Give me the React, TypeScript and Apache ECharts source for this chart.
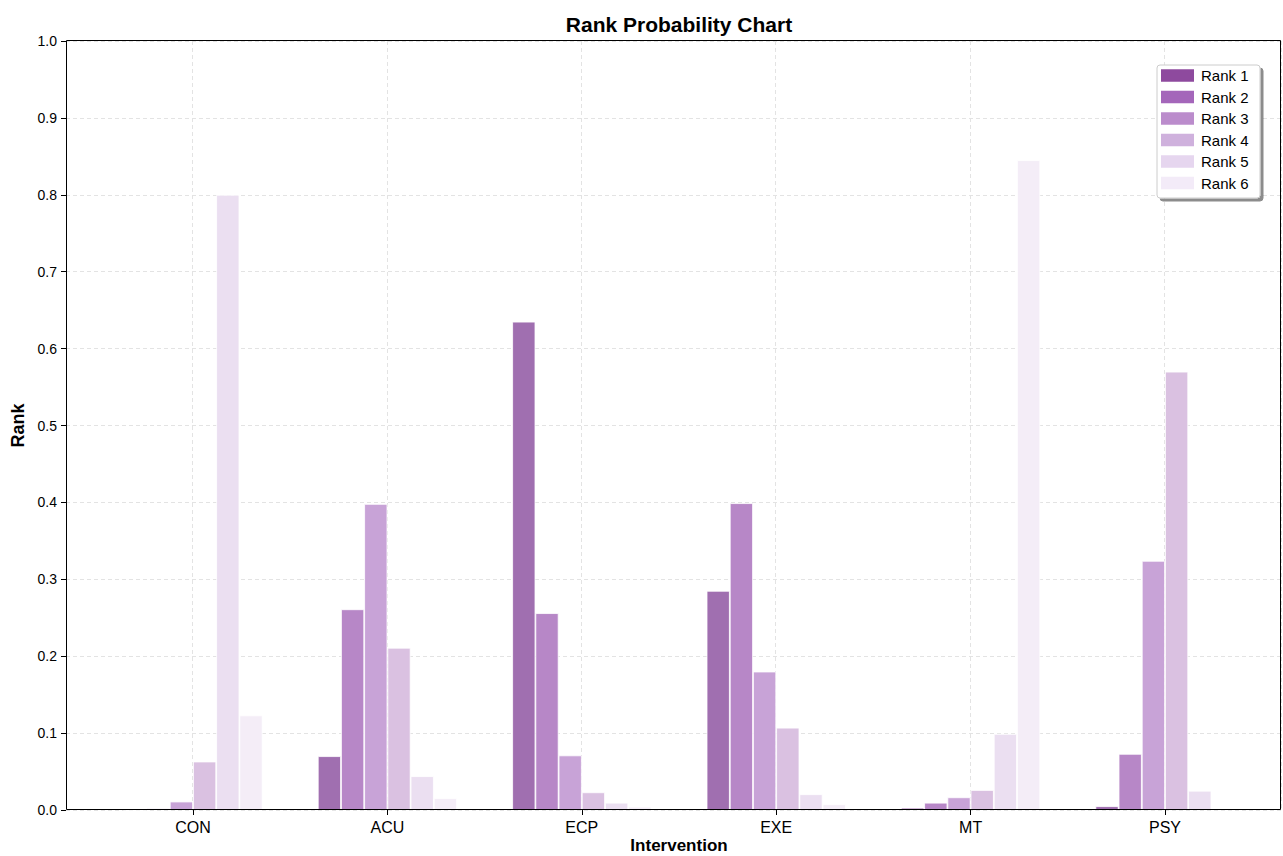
import React, { useEffect, useRef } from "react";
import * as echarts from "echarts";

const categories = ["CON", "ACU", "ECP", "EXE", "MT", "PSY"];
const rankNames = ["Rank 1", "Rank 2", "Rank 3", "Rank 4", "Rank 5", "Rank 6"];
const rank1 = [0.0, 0.07, 0.635, 0.285, 0.003, 0.005];
const rank2 = [0.002, 0.261, 0.256, 0.399, 0.0095, 0.073];
const rank3 = [0.011, 0.398, 0.071, 0.18, 0.0165, 0.324];
const rank4 = [0.063, 0.211, 0.023, 0.107, 0.026, 0.57];
const rank5 = [0.8, 0.044, 0.0095, 0.0205, 0.099, 0.025];
const rank6 = [0.123, 0.0155, 0.0043, 0.0075, 0.845, 0.001];
const yTicks = [0, 0.1, 0.2, 0.3, 0.4, 0.5, 0.6, 0.7, 0.8, 0.9, 1.0];

const barColors = ["#a06fb0", "#b787c7", "#c8a3d7", "#dac1e1", "#ebdff1", "#f4edf7"];
const legendColors = ["#8e4a9e", "#a466ba", "#bb8ccc", "#cfb1dd", "#e6d6ef", "#f3ebf8"];

const FONT = "'Liberation Sans', Arial, sans-serif";

export default function App() {
  const ref = useRef<HTMLDivElement>(null);
  useEffect(() => {
    document.body.style.margin = "0";
    const chart = echarts.init(ref.current!, undefined, { renderer: "svg" });
    const allData = [rank1, rank2, rank3, rank4, rank5, rank6];
    const gridLine = { show: true, lineStyle: { color: "#e3e3e3", type: [4, 3], width: 1 } };
    const option: any = {
      animation: false,
      backgroundColor: "#ffffff",
      textStyle: { fontFamily: FONT },
      title: {
        text: "Rank Probability Chart",
        left: 674,
        textAlign: "center",
        top: 9,
        textStyle: { fontSize: 21, fontWeight: "bold", color: "#000", fontFamily: FONT },
      },
      grid: [
        { left: 66, right: 2, top: 41, bottom: 46, outerBoundsMode: "none", containLabel: false },
        { left: 95.8, right: 20.8, top: 41, bottom: 46, outerBoundsMode: "none", containLabel: false },
      ],
      xAxis: [
        {
          type: "value", gridIndex: 0, min: -0.65, max: 5.6,
          axisLabel: { show: false }, axisTick: { show: false },
          axisLine: { show: false },
          splitLine: gridLine,
        },
        {
          type: "category", gridIndex: 1, data: categories,
          axisLine: { show: false },
          axisTick: { show: true, alignWithLabel: true, length: 5, lineStyle: { color: "#000" } },
          axisLabel: { fontSize: 16, color: "#000", margin: 9, fontFamily: FONT },
          splitLine: { show: false },
        },
      ],
      yAxis: [
        {
          type: "value", gridIndex: 0, min: 0, max: 1, interval: 0.1,
          axisLine: { show: false, onZero: false },
          axisTick: { show: true, length: 5, lineStyle: { color: "#000" } },
          axisLabel: {
            fontSize: 14, color: "#000", margin: 9, fontFamily: FONT,
            formatter: (v: number) => {
              const t = yTicks.find((x) => Math.abs(x - v) < 1e-9);
              return (t !== undefined ? t : v).toFixed(1);
            },
          },
          splitLine: gridLine,
          name: "Rank", nameLocation: "middle", nameGap: 37,
          nameTextStyle: { fontSize: 18, fontWeight: "bold", color: "#000", fontFamily: FONT },
        },
        { type: "value", gridIndex: 1, min: 0, max: 1, show: false },
      ],
      legend: {
        orient: "vertical",
        left: 1156,
        top: 63,
        itemWidth: 33,
        itemHeight: 12.5,
        itemGap: 6.5,
        icon: "rect",
        z: 10,
        textStyle: { fontSize: 15, color: "#000", fontFamily: FONT, padding: [0, 0, 0, 2] },
        data: rankNames.map((n, i) => ({ name: n, itemStyle: { color: legendColors[i], borderWidth: 0 } })),
      },
      graphic: [
        {
          type: "rect",
          shape: { x: 66.5, y: 40.5, width: 1214, height: 769 },
          style: { fill: "none", stroke: "#000", lineWidth: 1 },
          z: 50,
          silent: true,
        },
        {
          type: "rect",
          shape: { x: 1157, y: 65, width: 103, height: 133, r: 3 },
          style: {
            fill: "#ffffff", stroke: "#cccccc", lineWidth: 1,
            shadowColor: "rgba(0,0,0,0.45)", shadowOffsetX: 3, shadowOffsetY: 3, shadowBlur: 1,
          },
          z: 5,
          silent: true,
        },
        {
          type: "text",
          x: 679,
          y: 845,
          style: {
            text: "Intervention",
            fill: "#000",
            fontSize: 17,
            fontWeight: "bold",
            fontFamily: FONT,
            align: "center",
            verticalAlign: "middle",
          },
          silent: true,
        },
      ],
      series: allData.map((d, i) => ({
        name: rankNames[i],
        type: "bar",
        xAxisIndex: 1,
        yAxisIndex: 1,
        data: d,
        barWidth: 23.2,
        barGap: "0%",
        itemStyle: { color: barColors[i], borderColor: "#ffffff", borderWidth: 0.8 },
        emphasis: { disabled: true },
      })),
    };
    chart.setOption(option);
    return () => chart.dispose();
  }, []);
  return <div ref={ref} style={{ width: 1283, height: 856 }} />;
}
